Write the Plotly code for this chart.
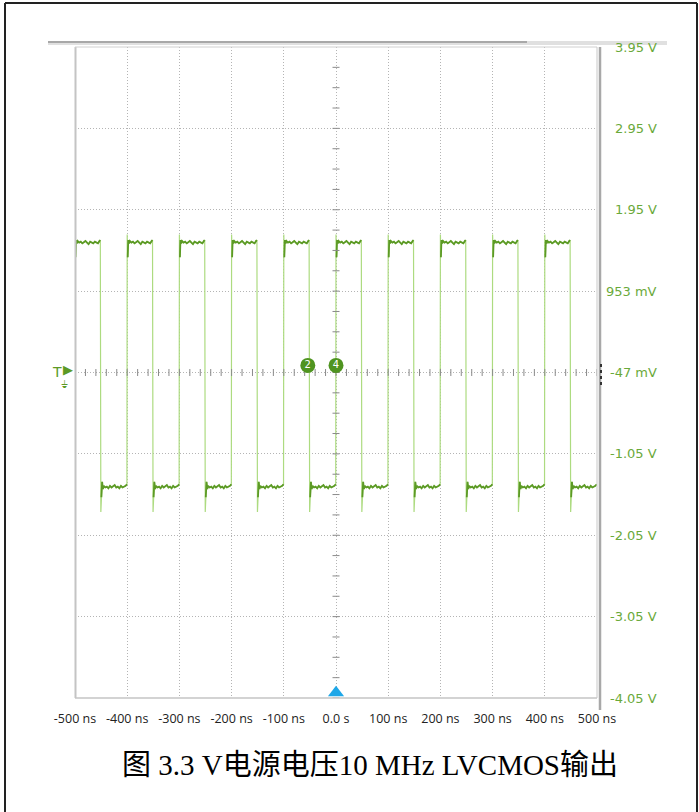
import numpy as np
import plotly.graph_objects as go

W, H = 699, 812

# ---------------- data ----------------
x_tick_vals = [-500, -400, -300, -200, -100, 0, 100, 200, 300, 400, 500]
x_tick_text = ["-500 ns", "-400 ns", "-300 ns", "-200 ns", "-100 ns", "0.0 s",
               "100 ns", "200 ns", "300 ns", "400 ns", "500 ns"]
y_tick_vals = [3.953, 2.953, 1.953, 0.953, -0.047, -1.047, -2.047, -3.047, -4.047]
y_tick_text = ["3.95 V", "2.95 V", "1.95 V", "953 mV", "-47 mV", "-1.05 V",
               "-2.05 V", "-3.05 V", "-4.05 V"]

rise_times_ns = [-500, -400, -300, -200, -100, 0, 100, 200, 300, 400]
fall_delay_ns = 49
start_level_v = -0.45

# high-level segment (time after rising edge, volts)
high_t = [0, 1, 2, 3.5, 5, 8, 11, 14, 17, 20, 23, 26, 29, 32, 35, 38, 41, 44, 47, 48.5]
high_v = [1.65, 1.37, 1.58, 1.54, 1.57, 1.55, 1.56, 1.54, 1.55, 1.57, 1.55, 1.53,
          1.56, 1.55, 1.54, 1.56, 1.55, 1.54, 1.57, 1.58]
# low-level segment (time after falling edge, volts)
low_t = [0.5, 1.5, 3, 4.5, 6, 9, 12, 15, 18, 21, 24, 27, 30, 33, 36, 39, 42, 45, 48, 50.5]
low_v = [-1.76, -1.58, -1.39, -1.48, -1.44, -1.46, -1.45, -1.47, -1.44, -1.46, -1.45,
         -1.43, -1.46, -1.45, -1.47, -1.44, -1.46, -1.45, -1.44, -1.42]

cursor_labels = ["2", "4"]
cursor_t_ns = [-54, 0]
cursor_v = [0.04, 0.04]

X_RANGE = [-500, 500]
Y_RANGE = [-4.047, 3.953]

# ---------------- geometry helpers ----------------
PL, PR, PT, PB = 75, 597, 47, 698


def px(x):
    return x / W


def py(y):
    return 1 - y / H


# ---------------- waveform ----------------
thin_x, thin_y = [-500], [start_level_v]
thick_x, thick_y = [], []
for r in rise_times_ns:
    f = r + fall_delay_ns
    for seg_start, ts, vs in ((r, high_t, high_v), (f, low_t, low_v)):
        seg_x, seg_y = [], []
        for t, v in zip(ts, vs):
            xx = seg_start + t
            if xx > 500:
                xx = 500
            seg_x.append(xx)
            seg_y.append(v)
            if xx >= 500:
                break
        thin_x += seg_x
        thin_y += seg_y
        thick_x += seg_x[1:] + [None]
        thick_y += seg_y[1:] + [None]

fig = go.Figure()

fig.add_trace(go.Scatter(x=thin_x, y=thin_y, mode="lines",
                         line=dict(color="#addb80", width=1.2),
                         hoverinfo="skip", showlegend=False))
fig.add_trace(go.Scatter(x=thick_x, y=thick_y, mode="lines",
                         line=dict(color="#5c9a25", width=1.8),
                         hoverinfo="skip", showlegend=False))

# minor ticks on centre axes
vt = np.arange(Y_RANGE[0], Y_RANGE[1] + 1e-6, 0.25)
fig.add_trace(go.Scatter(x=[0] * len(vt), y=vt, mode="markers",
                         marker=dict(symbol="line-ew", size=5,
                                     line=dict(color="#8a8a8a", width=1)),
                         hoverinfo="skip", showlegend=False))
ht = np.arange(X_RANGE[0], X_RANGE[1] + 1e-6, 20)
fig.add_trace(go.Scatter(x=ht, y=[-0.047] * len(ht), mode="markers",
                         marker=dict(symbol="line-ns", size=5,
                                     line=dict(color="#8a8a8a", width=1)),
                         hoverinfo="skip", showlegend=False))

# cursor markers
fig.add_trace(go.Scatter(x=cursor_t_ns, y=cursor_v, mode="markers+text",
                         text=cursor_labels, textposition="middle center",
                         textfont=dict(color="white", size=10, family="DejaVu Sans"),
                         marker=dict(size=15, color="#4f9420"),
                         hoverinfo="skip", showlegend=False, cliponaxis=False))

# trigger position marker (bottom)
fig.add_trace(go.Scatter(x=[0], y=[Y_RANGE[0] + 0.065], mode="markers",
                         marker=dict(symbol="triangle-up", size=14, color="#1ea7e8"),
                         hoverinfo="skip", showlegend=False, cliponaxis=False))

fig.update_layout(
    width=W, height=H,
    autosize=False,
    margin=dict(l=0, r=0, t=0, b=0, pad=0, autoexpand=False),
    paper_bgcolor="white", plot_bgcolor="white",
    xaxis=dict(domain=[px(PL), px(PR)], range=X_RANGE, tickvals=x_tick_vals,
               ticktext=x_tick_text, showgrid=True, gridcolor="#b4b4b4",
               griddash="1px,2px", gridwidth=1, zeroline=False, showline=False,
               ticks="", ticklabelstandoff=11, automargin=False,
               tickfont=dict(family="Open Sans, Noto Sans", size=12.5, color="#222222")),
    yaxis=dict(domain=[py(PB), py(PT)], range=Y_RANGE, tickvals=y_tick_vals,
               showticklabels=False, showgrid=True, gridcolor="#b4b4b4",
               griddash="1px,2px", gridwidth=1, zeroline=False, showline=False,
               ticks="", automargin=False),
)

# right-side voltage labels
for v, t in zip(y_tick_vals, y_tick_text):
    fig.add_annotation(x=px(659), xref="paper", y=v, yref="y", text=t,
                       showarrow=False, xanchor="right", yanchor="middle",
                       font=dict(family="DejaVu Sans", size=13, color="#6aa93a"))

# trigger "T", arrow + ground symbol at left
fig.add_annotation(x=px(57), xref="paper", y=py(372), yref="paper", text="T",
                   showarrow=False, xanchor="center", yanchor="middle",
                   font=dict(family="DejaVu Sans", size=14, color="#5c9a25"))
fig.add_annotation(x=px(68), xref="paper", y=py(370), yref="paper", text="▶",
                   showarrow=False, xanchor="center", yanchor="middle",
                   font=dict(family="DejaVu Sans", size=13, color="#5c9a25"))
fig.add_annotation(x=px(64), xref="paper", y=py(384), yref="paper", text="⏚",
                   showarrow=False, xanchor="center", yanchor="middle",
                   font=dict(family="DejaVu Sans", size=10, color="#5c9a25"))

# caption
fig.add_annotation(x=px(370), xref="paper", y=py(765), yref="paper",
                   text="图 3.3 V电源电压10 MHz LVCMOS输出", showarrow=False,
                   xanchor="center", yanchor="middle",
                   font=dict(family="Liberation Serif, Noto Sans CJK SC", size=29, color="black"))

shapes = []


def line(x0, y0, x1, y1, color, width, dash="solid"):
    shapes.append(dict(type="line", xref="paper", yref="paper",
                       x0=px(x0), y0=py(y0), x1=px(x1), y1=py(y1),
                       line=dict(color=color, width=width, dash=dash)))


# outer frame
line(5, 3, 5, 812, "#222222", 2)
line(5, 3, 697, 3, "#222222", 2)
line(697, 3, 697, 812, "#222222", 2)
# top bar
shapes.append(dict(type="rect", xref="paper", yref="paper", x0=px(48), x1=px(667),
                   y0=py(45), y1=py(41), line=dict(width=0), fillcolor="#e0e0e0"))
line(48, 42, 527, 42, "#a8a8a8", 2)
# plot frame
line(PL + 0.5, PT, PL + 0.5, PB, "#c4c4c4", 2)
line(PL, PT, PR, PT, "#d0d0d0", 1)
line(PL, PB, PR, PB, "#c4c4c4", 1.5)
line(PR, PT, PR, PB, "#c8c8c8", 1)
line(600, PT, 600, 710, "#a8a8a8", 2.5)
# right-side dotted marker
line(601, 364, 601, 385, "#333333", 2, "dot")

fig.update_layout(shapes=shapes)

fig.write_html("out.html", config={"responsive": False, "displayModeBar": False},
               post_script="document.body.style.margin='0';"
                           "document.body.style.overflow='hidden';")
